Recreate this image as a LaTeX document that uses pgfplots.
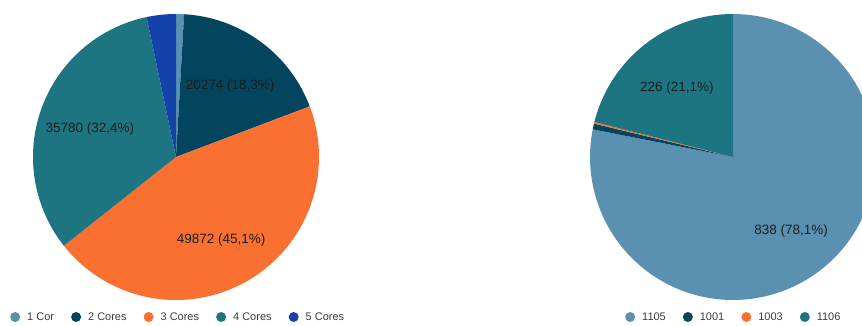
\documentclass[border=0pt]{standalone}
\usepackage{pgfplots}
\pgfplotsset{compat=1.18}
\usepackage{fontspec}
\setmainfont{Liberation Sans}

\definecolor{cA}{RGB}{90,145,176}
\definecolor{cB}{RGB}{3,69,95}
\definecolor{cC}{RGB}{250,112,48}
\definecolor{cD}{RGB}{30,117,130}
\definecolor{cE}{RGB}{19,66,170}
\definecolor{labeltext}{RGB}{30,30,30}
\definecolor{legendtext}{RGB}{60,60,60}

\newcommand\labelfont{\fontsize{13.5}{16}\selectfont}
\newcommand\legendfont{\fontsize{11}{13}\selectfont}

\pgfplotsset{
  legend image code/.code={\fill[#1] (0pt,0pt) circle (5pt); \path (10pt,0pt);},
  pieaxis/.style={
    scale only axis, width=431pt, height=325pt,
    ymin=0, ymax=325, hide axis, clip=true, clip bounding box=upper bound,
    legend columns=-1,
    legend style={draw=none, fill=none, font=\legendfont, text=legendtext,
      inner sep=0pt, /tikz/every even column/.append style={column sep=15pt}},
    legend cell align=left,
  },
}

% #1 cx, #2 cy, #3 value, #4 total, #5 colour, #6 label text (may be empty)
\newcommand\pieslice[6]{%
  \edef\doit{\noexpand\addplot[fill=#5, draw=none,
      domain=\fpeval{round(90-360*(\piecum+#3)/#4,5)}:\fpeval{round(90-360*\piecum/#4,5)},
      samples=120]
    ({#1+143*cos(x)},{#2+143*sin(x)}) -- (axis cs:#1,#2) -- cycle;}%
  \doit
  \if\relax\detokenize{#6}\relax\else
    \edef\dolabel{\noexpand\node[font=\noexpand\labelfont, text=labeltext, inner sep=0pt]
      at (axis cs:\fpeval{round(#1+0.64*143*cosd(90-360*(\piecum+#3/2)/#4),3)},%
                  \fpeval{round(#2-3+0.64*143*sind(90-360*(\piecum+#3/2)/#4),3)})
      {\unexpanded{#6}};}%
    \dolabel
  \fi
  \xdef\piecum{\fpeval{\piecum+#3}}%
}

\begin{document}
\begin{tikzpicture}
\useasboundingbox (0pt,0pt) rectangle (862pt,325pt);
\begin{axis}[pieaxis, at={(0pt,0pt)}, anchor=south west, xmin=0, xmax=431,
  legend style={at={(axis cs:10,8)}, anchor=west},
  legend entries={1 Cor, 2 Cores, 3 Cores, 4 Cores, 5 Cores}]
\xdef\piecum{0}
\pieslice{176}{168}{1000}{110576}{cA}{}
\pieslice{176}{168}{20274}{110576}{cB}{20274 (18,3\%)}
\pieslice{176}{168}{49872}{110576}{cC}{49872 (45,1\%)}
\pieslice{176}{168}{35780}{110576}{cD}{35780 (32,4\%)}
\pieslice{176}{168}{3650}{110576}{cE}{}
\end{axis}
\begin{axis}[pieaxis, at={(431pt,0pt)}, anchor=south west, xmin=431, xmax=862,
  legend style={at={(axis cs:625,8)}, anchor=west},
  legend entries={1105, 1001, 1003, 1106}]
\xdef\piecum{0}
\pieslice{733}{168}{838}{1073}{cA}{838 (78,1\%)}
\pieslice{733}{168}{7}{1073}{cB}{}
\pieslice{733}{168}{2}{1073}{cC}{}
\pieslice{733}{168}{226}{1073}{cD}{226 (21,1\%)}
\end{axis}
\end{tikzpicture}
\end{document}
